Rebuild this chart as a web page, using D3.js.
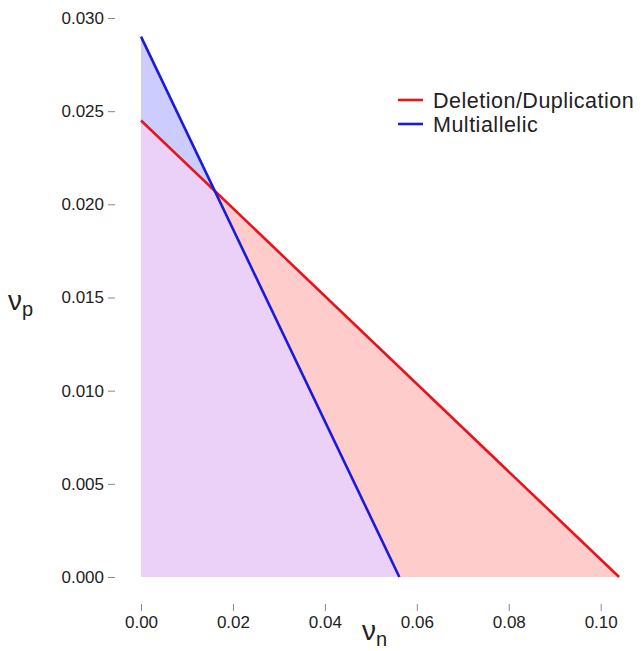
<!DOCTYPE html>
<html>
<head>
<meta charset="utf-8">
<script src="https://cdn.jsdelivr.net/npm/d3@7"></script>
<style>
  body { margin: 0; background: #fff; }
  text { font-family: "Liberation Sans", Arial, sans-serif; fill: #222; }
</style>
</head>
<body>
<div id="chart-area"></div>
<script>
const width = 642;
const height = 651;
const margin = {top: 18, right: 22, bottom: 74, left: 141};

// series: endpoints of each boundary line (vn, vp)
const seriesNames = ["Deletion/Duplication", "Multiallelic"];
const seriesColors = ["#e8141c", "#1a1adb"];
const fillColors = ["#ffcccc", "#ccccff"];
const overlapColor = "#ebd0f8";
const delDup = [{vn: 0, vp: 0.0245}, {vn: 0.104, vp: 0}];
const multi = [{vn: 0, vp: 0.029}, {vn: 0.0562, vp: 0}];
const xTicks = [0, 0.02, 0.04, 0.06, 0.08, 0.10];
const yTicks = [0, 0.005, 0.010, 0.015, 0.020, 0.025, 0.030];

var svg = d3.select("#chart-area").append("svg")
	.attr("width", width)
	.attr("height", height);

var x = d3.scaleLinear()
	.domain([0, 0.10])
	.range([margin.left, 600.7]);

var y = d3.scaleLinear()
	.domain([0, 0.030])
	.range([height - margin.bottom, margin.top]);

var area = d3.area()
	.x(d => x(d.vn))
	.y0(y(0))
	.y1(d => y(d.vp));

var line = d3.line()
	.x(d => x(d.vn))
	.y(d => y(d.vp));

// clip used to paint the overlap region
svg.append("clipPath")
	.attr("id", "clip-deldup")
	.append("path")
	.attr("d", area(delDup));

svg.append("path")
	.attr("d", area(delDup))
	.attr("fill", fillColors[0]);

svg.append("path")
	.attr("d", area(multi))
	.attr("fill", fillColors[1]);

svg.append("path")
	.attr("d", area(multi))
	.attr("clip-path", "url(#clip-deldup)")
	.attr("fill", overlapColor);

[delDup, multi].forEach(function(s, i) {
	svg.append("path")
		.datum(s)
		.attr("fill", "none")
		.attr("stroke", seriesColors[i])
		.attr("stroke-width", 2.6)
		.attr("d", line);
});

// axes: ticks only, no domain line
var xAxis = svg.append("g")
	.attr("transform", `translate(0,${y(0) + 27})`)
	.call(d3.axisBottom(x).tickValues(xTicks).tickFormat(d3.format(".2f")).tickSize(7).tickPadding(5));
xAxis.select(".domain").remove();
xAxis.selectAll("line").attr("stroke", "#888");
xAxis.selectAll("text").attr("font-size", 17).attr("fill", "#222")
	.style("font-family", "'Liberation Sans', Arial, sans-serif");

var yAxis = svg.append("g")
	.attr("transform", `translate(${margin.left - 26},0)`)
	.call(d3.axisLeft(y).tickValues(yTicks).tickFormat(d3.format(".3f")).tickSize(7).tickPadding(4));
yAxis.select(".domain").remove();
yAxis.selectAll("line").attr("stroke", "#888");
yAxis.selectAll("text").attr("font-size", 17).attr("fill", "#222")
	.style("font-family", "'Liberation Sans', Arial, sans-serif");

// axis titles
var xt = svg.append("text")
	.attr("x", 362)
	.attr("y", 640)
	.attr("font-size", 28);
xt.append("tspan").text("ν");
xt.append("tspan").attr("font-size", 20).attr("dy", 6).text("n");

var yt = svg.append("text")
	.attr("x", 8)
	.attr("y", 310)
	.attr("font-size", 28);
yt.append("tspan").text("ν");
yt.append("tspan").attr("font-size", 20).attr("dy", 6).text("p");

// legend
var legend = svg.append("g");
seriesNames.forEach(function(name, i) {
	var ly = 100 + i * 24;
	legend.append("line")
		.attr("x1", 398).attr("x2", 423)
		.attr("y1", ly).attr("y2", ly)
		.attr("stroke", seriesColors[i])
		.attr("stroke-width", 2.6);
	legend.append("text")
		.attr("x", 433)
		.attr("y", ly + 8)
		.attr("font-size", 21.5)
		.attr("letter-spacing", 0.5)
		.text(name);
});
</script>
</body>
</html>
